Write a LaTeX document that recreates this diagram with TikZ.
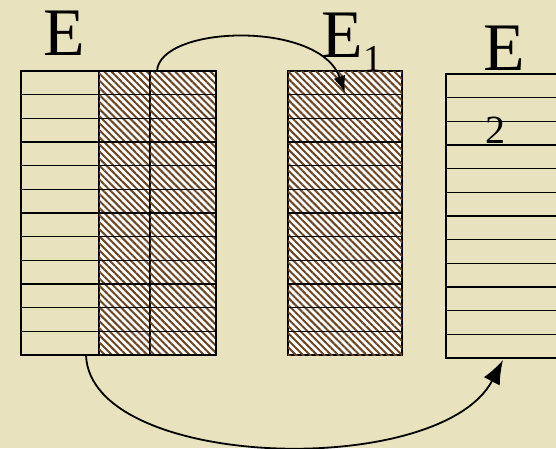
\documentclass[tikz,border=0pt]{standalone}
\usepackage{fontspec}
\setmainfont{Liberation Serif}
\usetikzlibrary{arrows.meta,positioning,calc,patterns.meta}
\definecolor{paper}{RGB}{233,226,190}
\definecolor{hatch}{RGB}{105,70,40}

\tikzset{
  col/.style={draw,inner sep=0pt,outer sep=0pt,anchor=north west,minimum height=284pt},
  hcol/.style={col,fill=white,postaction={pattern={Lines[angle=-45,distance=5pt,line width=2pt]},pattern color=hatch}},
  big/.style={font=\fontsize{68}{68}\selectfont,inner sep=0pt}
}

\begin{document}
\begin{tikzpicture}[x=1pt,y=-1pt,>=Latex,line width=1.4pt]
\clip (0,0) rectangle (556,448);
\fill[paper] (0,0) rectangle (556,448);

% table E
\node[col,minimum width=78pt] (e) at (21,71) {};
\node[hcol,minimum width=51pt] (eh1) at (99,71) {};
\node[hcol,minimum width=66pt] (eh2) at (150,71) {};
\draw (e.north west) rectangle (eh2.south east);
\foreach \i in {1,...,11}
  \draw ($(e.north west)!\i/12!(e.south west)$) -- ($(eh2.north east)!\i/12!(eh2.south east)$);

% table E1
\node[hcol,minimum width=114pt] (e1) at (288,71) {};
\foreach \i in {1,...,11}
  \draw ($(e1.north west)!\i/12!(e1.south west)$) -- ($(e1.north east)!\i/12!(e1.south east)$);

% table E2
\node[col,minimum width=150pt] (e2) at (446,74) {};
\foreach \i in {1,...,11}
  \draw ($(e2.north west)!\i/12!(e2.south west)$) -- ($(e2.north east)!\i/12!(e2.south east)$);

% labels
\node[big] (le) at (64,33) {E};
\node[big] (le1) at (352,42) {E\raisebox{-0.2em}{\fontsize{38}{38}\selectfont 1}};
\node[big] (le2) at (504,48) {E};
\node[font=\fontsize{40}{40}\selectfont,inner sep=0pt] (two) at (495,130) {2};

% arrows
\coordinate (a0) at ($(eh2.north west)+(7,0)$);
\coordinate (a1) at ($(e1.north west)+(57,22)$);
\draw[-{Latex[length=17pt,width=12pt]},line width=1.8pt] (a0) .. controls (160,25) and (320,20) .. (a1);
\coordinate (b0) at ($(e.south west)+(65,0)$);
\coordinate (b1) at ($(e2.south west)+(57,2)$);
\draw[-{Latex[length=24pt,width=18pt]},line width=1.8pt] (b0) .. controls (90,470) and (440,480) .. (b1);
\end{tikzpicture}
\end{document}
